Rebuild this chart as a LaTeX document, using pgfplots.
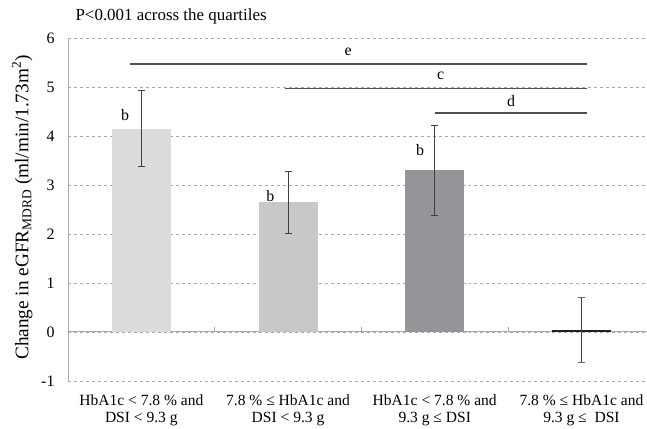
\documentclass[border=0pt]{standalone}
\usepackage{fontspec}
\setmainfont{Liberation Serif}
\usepackage{pgfplots}
\pgfplotsset{compat=1.18}
\definecolor{barA}{HTML}{DADBDD}
\definecolor{barB}{HTML}{C7C8CA}
\definecolor{barC}{HTML}{939598}
\definecolor{barD}{HTML}{231F20}
\definecolor{errc}{HTML}{404040}
\definecolor{sigc}{HTML}{505050}
\definecolor{axc}{HTML}{A7A9AC}
\begin{document}
\begin{tikzpicture}
\useasboundingbox (-68bp,-48bp) rectangle (579bp,381bp);
\begin{axis}[
  at={(0,0)}, anchor=south west,
  scale only axis,
  width=579bp, height=343bp,
  xmin=-0.5, xmax=3.447,
  ymin=-1, ymax=6,
  ytick={-1,0,...,6},
  xtick={0,1,2,3},
  xticklabels={{HbA1c < 7.8 \% and\\DSI < 9.3 g},{7.8 \% ≤ HbA1c and\\DSI < 9.3 g},{HbA1c < 7.8 \% and\\9.3 g ≤ DSI},{7.8 \% ≤ HbA1c and\\9.3 g ≤\ \ DSI}},
  x tick label style={align=center, font=\fontsize{15.6}{17.5}\selectfont, yshift=-10bp},
  y tick label style={font=\fontsize{16}{18}\selectfont, xshift=-10bp},
  /pgf/number format/assume math mode=true,
  axis x line*=bottom,
  axis y line*=left,
  x axis line style={draw=none},
  y axis line style={axc, line width=0.8bp, -},
  xtick style={draw=none},
  ytick style={draw=none},
  ymajorgrids,
  grid style={axc, dashed, line width=0.8bp},
  ylabel={Change in eGFR\textsubscript{MDRD} (ml/min/1.73m\textsuperscript{2})},
  ylabel style={at={(axis description cs:-0.079,0.506)}, anchor=center, font=\fontsize{19.3}{21}\selectfont},
  clip=false,
]
% zero line and minor ticks
\addplot[axc, line width=1bp] coordinates {(-0.5,0) (3.447,0)};
\addplot[axc, line width=1bp] coordinates {(0.5,0) (0.5,0.1)};
\addplot[axc, line width=1bp] coordinates {(1.5,0) (1.5,0.1)};
\addplot[axc, line width=1bp] coordinates {(2.5,0) (2.5,0.1)};
% bars
\addplot[ybar, bar width=59bp, bar shift=0pt, fill=barA, draw=none,
  error bars/.cd, y dir=both, y explicit,
  error bar style={errc, line width=1bp},
  error mark options={rotate=90, mark size=3.5bp, errc, line width=1bp}]
  coordinates {(0,4.15) +- (0,0.78)};
\addplot[ybar, bar width=59bp, bar shift=0pt, fill=barB, draw=none,
  error bars/.cd, y dir=both, y explicit,
  error bar style={errc, line width=1bp},
  error mark options={rotate=90, mark size=3.5bp, errc, line width=1bp}]
  coordinates {(1,2.65) +- (0,0.63)};
\addplot[ybar, bar width=59bp, bar shift=0pt, fill=barC, draw=none,
  error bars/.cd, y dir=both, y explicit,
  error bar style={errc, line width=1bp},
  error mark options={rotate=90, mark size=3.5bp, errc, line width=1bp}]
  coordinates {(2,3.30) +- (0,0.92)};
\addplot[ybar, bar width=59bp, bar shift=0pt, fill=barD, draw=none,
  error bars/.cd, y dir=both, y explicit,
  error bar style={errc, line width=1bp},
  error mark options={rotate=90, mark size=3.5bp, errc!80, line width=1bp}]
  coordinates {(3,0.04) +- (0,0.66)};
% significance lines
\addplot[sigc, line width=1.3bp] coordinates {(-0.08,5.47) (3.04,5.47)};
\addplot[sigc, line width=1.3bp] coordinates {(0.98,4.97) (3.04,4.97)};
\addplot[sigc, line width=1.3bp] coordinates {(2.0,4.47) (3.04,4.47)};
% labels
\node[font=\fontsize{16}{18}\selectfont] at (axis cs:1.41,5.72) {e};
\node[font=\fontsize{16}{18}\selectfont] at (axis cs:2.04,5.23) {c};
\node[font=\fontsize{16}{18}\selectfont] at (axis cs:2.52,4.72) {d};
\node[font=\fontsize{16}{18}\selectfont] at (axis cs:-0.11,4.42) {b};
\node[font=\fontsize{16}{18}\selectfont] at (axis cs:0.88,2.77) {b};
\node[font=\fontsize{16}{18}\selectfont] at (axis cs:1.90,3.71) {b};
\node[anchor=base west, font=\fontsize{17}{19}\selectfont] at (rel axis cs:0.007,1.052) {P<0.001 across the quartiles};
\end{axis}
\end{tikzpicture}
\end{document}
